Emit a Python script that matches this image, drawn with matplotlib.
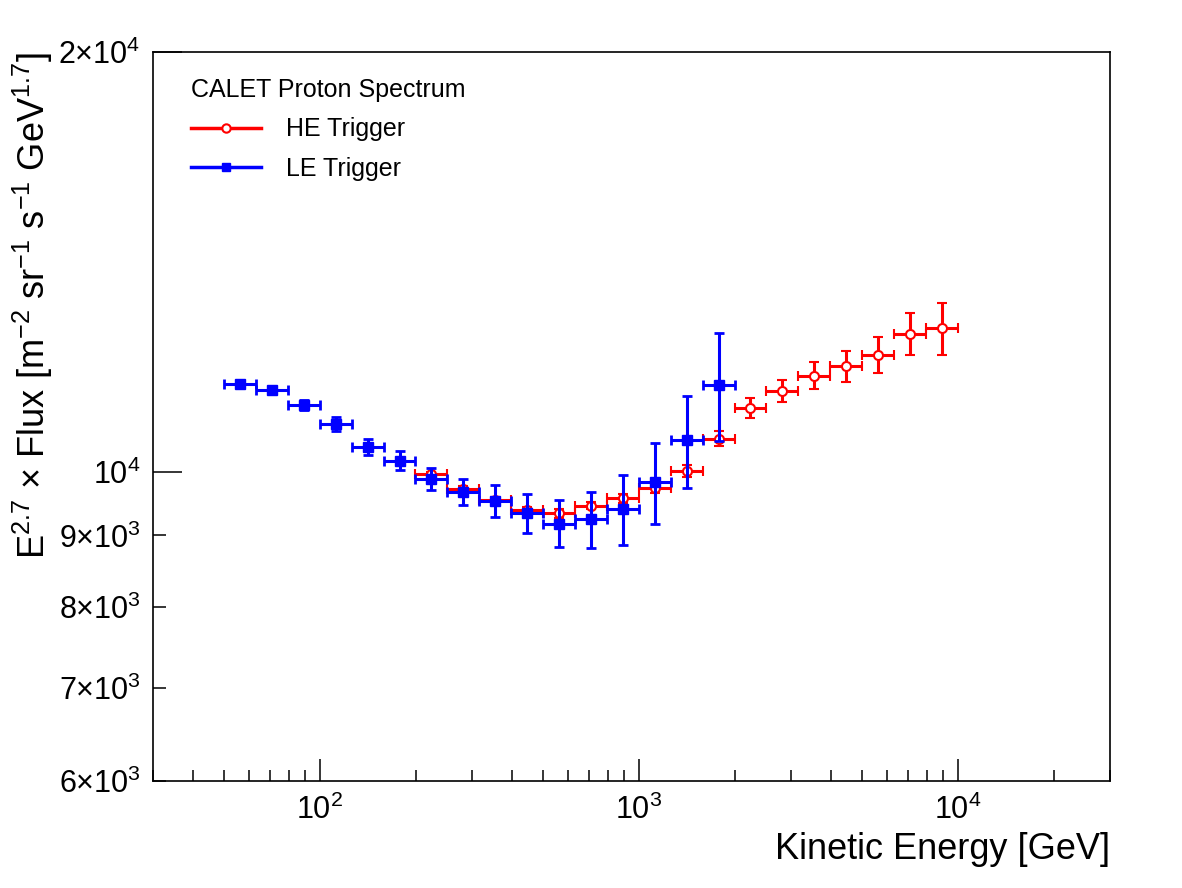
import matplotlib
matplotlib.use('Agg')
import matplotlib.pyplot as plt
import matplotlib.ticker as mticker
from matplotlib.lines import Line2D
import numpy as np

plt.rcParams['font.family'] = ['Liberation Sans', 'DejaVu Sans']
plt.rcParams['mathtext.fontset'] = 'custom'
plt.rcParams['mathtext.rm'] = 'Liberation Sans'
plt.rcParams['mathtext.it'] = 'Liberation Sans'

# LE trigger (blue)
le_edges = [50.1, 63.1, 79.4, 100.0, 125.9, 158.5, 199.5, 251.2, 316.2, 398.1,
            501.2, 631.0, 794.3, 1000.0, 1258.9, 1584.9, 1995.3]
le_flux = [11562, 11443, 11168, 10817, 10420, 10186, 9883, 9668, 9530, 9333,
           9180, 9247, 9401, 9829, 10529, 11543]
le_err = [25, 38, 92, 125, 138, 160, 180, 208, 252, 301,
          356, 428, 544, 650, 800, 1030]

# HE trigger (red)
he_edges = [199.5, 251.2, 316.2, 398.1, 501.2, 631.0, 794.3, 1000.0, 1258.9,
            1584.9, 1995.3, 2511.9, 3162.3, 3981.1, 5011.9, 6309.6, 7943.3, 10000.0]
he_flux = [9957, 9726, 9542, 9385, 9333, 9457, 9573, 9733, 10017, 10558,
           11104, 11435, 11716, 11905, 12129, 12557, 12676]
he_err = [45, 45, 47, 54, 62, 62, 71, 80, 99, 131,
          183, 208, 261, 305, 361, 436, 545]

def bins(edges):
    e = np.array(edges)
    c = np.sqrt(e[:-1] * e[1:])
    return c, [c - e[:-1], e[1:] - c]

fig = plt.figure(figsize=(11.82, 8.88), dpi=100)
ax = fig.add_axes([153/1182, 1 - 781/888, (1110-153)/1182, (781-52)/888])

he_x, he_xerr = bins(he_edges)
le_x, le_xerr = bins(le_edges)

ax.errorbar(he_x, he_flux, xerr=he_xerr, yerr=he_err, fmt='o', color='red',
            mfc='white', mec='red', mew=1.5, ms=6.5, elinewidth=2.2,
            capsize=3.5, capthick=2.0, zorder=3)
ax.errorbar(le_x, le_flux, xerr=le_xerr, yerr=le_err, fmt='s', color='blue',
            mfc='blue', mec='blue', ms=6.5, elinewidth=2.2,
            capsize=3.5, capthick=2.0, zorder=4)

ax.set_xscale('log')
ax.set_yscale('log')
ax.set_xlim(30, 30000)
ax.set_ylim(6000, 20000)

ax.xaxis.set_major_locator(mticker.FixedLocator([100, 1000, 10000]))
ax.xaxis.set_major_formatter(mticker.FixedFormatter([r'$10^{2}$', r'$10^{3}$', r'$10^{4}$']))
ax.xaxis.set_minor_locator(mticker.LogLocator(base=10, subs=np.arange(2, 10), numticks=20))
ax.xaxis.set_minor_formatter(mticker.NullFormatter())

ax.yaxis.set_major_locator(mticker.FixedLocator([10000, 20000]))
ax.yaxis.set_major_formatter(mticker.FixedFormatter([r'$10^{4}$', r'$2{\times}10^{4}$']))
ax.yaxis.set_minor_locator(mticker.FixedLocator([6000, 7000, 8000, 9000]))
ax.yaxis.set_minor_formatter(mticker.FixedFormatter(
    [r'$6{\times}10^{3}$', r'$7{\times}10^{3}$', r'$8{\times}10^{3}$', r'$9{\times}10^{3}$']))

ax.tick_params(axis='x', which='major', direction='in', length=16, width=1.1, labelsize=22, pad=10)
ax.tick_params(axis='x', which='minor', direction='in', length=8, width=1.1)
ax.tick_params(axis='y', which='major', direction='in', length=21, width=1.1, labelsize=22, pad=9)
ax.tick_params(axis='y', which='minor', direction='in', length=9.5, width=1.1, labelsize=22, pad=9)
ax.tick_params(axis='x', which='both', top=False)
ax.tick_params(axis='y', which='both', right=False)
for s in ax.spines.values():
    s.set_linewidth(1.2)

ax.set_xlabel('Kinetic Energy [GeV]', fontsize=26, loc='right', labelpad=4)
ax.set_ylabel(r'E$^{2.7}$ $\times$ Flux [m$^{-2}$ sr$^{-1}$ s$^{-1}$ GeV$^{1.7}$]',
              fontsize=26, loc='top', labelpad=2)

# legend with plain line + marker handles, no frame
handles = [Line2D([], [], color='red', lw=2.5, marker='o', ms=6, mfc='white', mec='red', mew=1.5),
           Line2D([], [], color='blue', lw=2.5, marker='s', ms=6, mfc='blue', mec='blue')]
leg = ax.legend(handles, ['HE Trigger', 'LE Trigger'], loc='upper left',
                bbox_to_anchor=(0.016, 0.995), frameon=False,
                fontsize=18, title='CALET Proton Spectrum', title_fontsize=18,
                handlelength=2.8, handletextpad=1.0, labelspacing=0.62)
leg._legend_box.align = 'left'
leg._legend_box.sep = 11

fig.savefig('out.png', dpi=100)
